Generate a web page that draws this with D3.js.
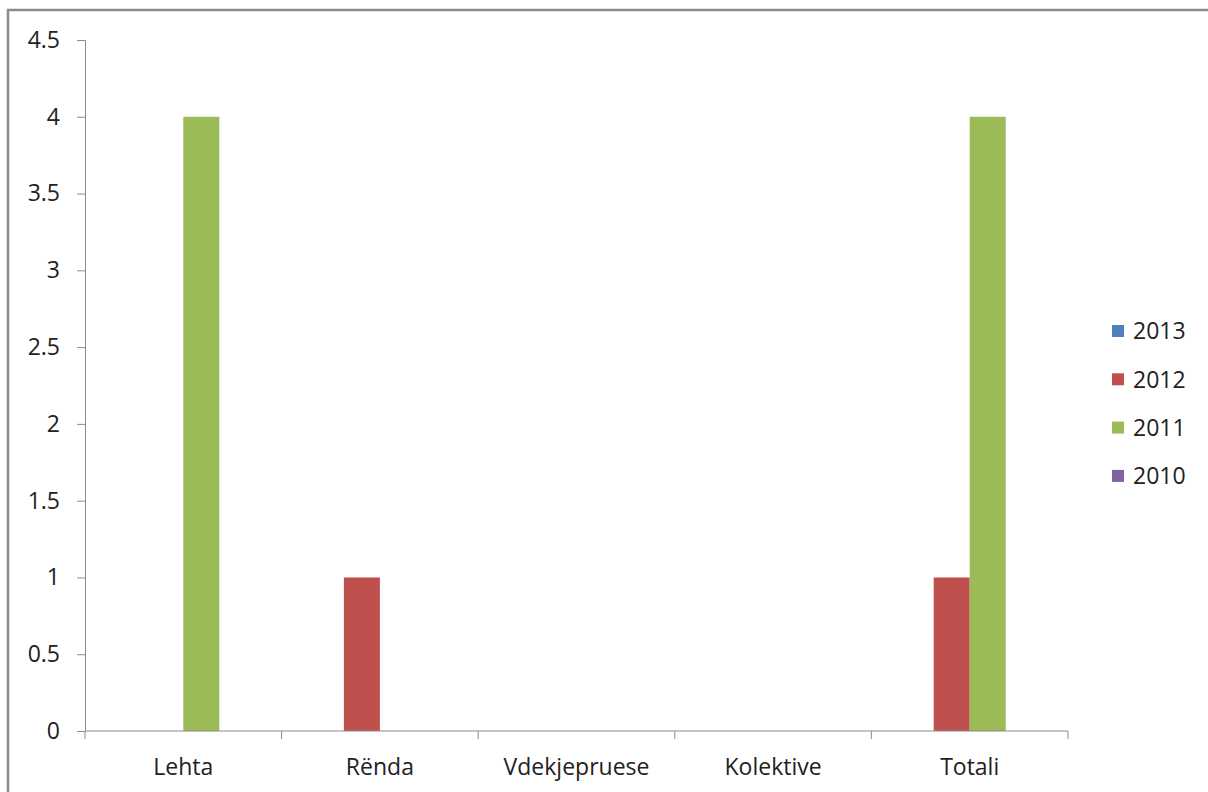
<!DOCTYPE html>
<html>
<head>
<meta charset="utf-8">
<script src="https://cdn.jsdelivr.net/npm/d3@7"></script>
<style>
  body { margin: 0; background: #fff; }
  svg text { font-family: "Open Sans", "Noto Sans", sans-serif; fill: #222; }
</style>
</head>
<body>
<div id="chart"></div>
<script>
// data
var categories = ["Lehta", "Rënda", "Vdekjepruese", "Kolektive", "Totali"];
var years = ["2013", "2012", "2011", "2010"];
var values2013 = [0, 0, 0, 0, 0];
var values2012 = [0, 1, 0, 0, 1];
var values2011 = [4, 0, 0, 0, 4];
var values2010 = [0, 0, 0, 0, 0];
var yTicks = [0, 0.5, 1, 1.5, 2, 2.5, 3, 3.5, 4, 4.5];
var colors = ["#4F81BD", "#C0504D", "#9BBB59", "#8064A2"];

var seriesValues = [values2013, values2012, values2011, values2010];

var width = 1208, height = 792;
var margin = {top: 40, left: 85, right: 140, bottom: 61};
var fontSize = "23px";

var svg = d3.select("#chart").append("svg")
    .attr("width", width)
    .attr("height", height);

// outer frame of the chart area (runs off to the right and bottom)
svg.append("path")
    .attr("d", "M8,800 L8,10 L1220,10")
    .attr("fill", "none")
    .attr("stroke", "#8c8c8c")
    .attr("stroke-width", 2.5);

var plotW = width - margin.left - margin.right,
    plotH = height - margin.top - margin.bottom;

var g = svg.append("g")
    .attr("transform", "translate(" + margin.left + "," + margin.top + ")");

var x0 = d3.scaleBand().domain(categories).range([0, plotW]);
var gap = x0.bandwidth() * 0.1335;
var x1 = d3.scaleBand().domain(years).range([gap, x0.bandwidth() - gap]);
var y = d3.scaleLinear().domain([0, 4.5]).range([plotH, 0]);

// bars
var data = [];
categories.forEach(function(c, i) {
  years.forEach(function(yr, j) {
    data.push({cat: c, year: yr, value: seriesValues[j][i], color: colors[j]});
  });
});

g.append("g").selectAll("rect")
    .data(data.filter(function(d) { return d.value > 0; }))
  .enter().append("rect")
    .attr("x", function(d) { return x0(d.cat) + x1(d.year); })
    .attr("y", function(d) { return y(d.value); })
    .attr("width", x1.bandwidth())
    .attr("height", function(d) { return plotH - y(d.value); })
    .attr("fill", function(d) { return d.color; });

// y axis
var yAxis = g.append("g")
    .call(d3.axisLeft(y).tickValues(yTicks).tickSize(8).tickPadding(17)
      .tickFormat(function(d) { return String(d); }));
yAxis.selectAll("path, line").attr("stroke", "#8c8c8c");
yAxis.select(".domain").attr("d", "M-8,0.5H0.5V" + (plotH + 0.5));
yAxis.selectAll("text").style("font-size", fontSize).attr("fill", "#222");

// x axis with ticks at band boundaries
var xg = g.append("g").attr("transform", "translate(0," + plotH + ")");
xg.append("line")
    .attr("x1", 0).attr("x2", plotW)
    .attr("stroke", "#8c8c8c").attr("stroke-width", 1.2);
var bounds = categories.map(function(c) { return x0(c); }).concat([plotW]);
xg.selectAll(".tk").data(bounds).enter().append("line")
    .attr("class", "tk")
    .attr("x1", function(d) { return d; }).attr("x2", function(d) { return d; })
    .attr("y1", 0).attr("y2", 8)
    .attr("stroke", "#8c8c8c");
xg.selectAll(".lbl").data(categories).enter().append("text")
    .attr("class", "lbl")
    .attr("x", function(d) { return x0(d) + x0.bandwidth() / 2; })
    .attr("y", 36)
    .attr("dy", "0.36em")
    .attr("text-anchor", "middle")
    .style("font-size", fontSize)
    .text(function(d) { return d; });

// legend
var legend = svg.append("g").attr("transform", "translate(1112,331)");
var item = legend.selectAll("g").data(years).enter().append("g")
    .attr("transform", function(d, i) { return "translate(0," + (i * 48.3) + ")"; });
item.append("rect")
    .attr("x", 0).attr("y", -6)
    .attr("width", 12).attr("height", 12)
    .attr("fill", function(d, i) { return colors[i]; });
item.append("text")
    .attr("x", 21).attr("y", 0)
    .attr("dy", "0.36em")
    .style("font-size", fontSize)
    .text(function(d) { return d; });
</script>
</body>
</html>
